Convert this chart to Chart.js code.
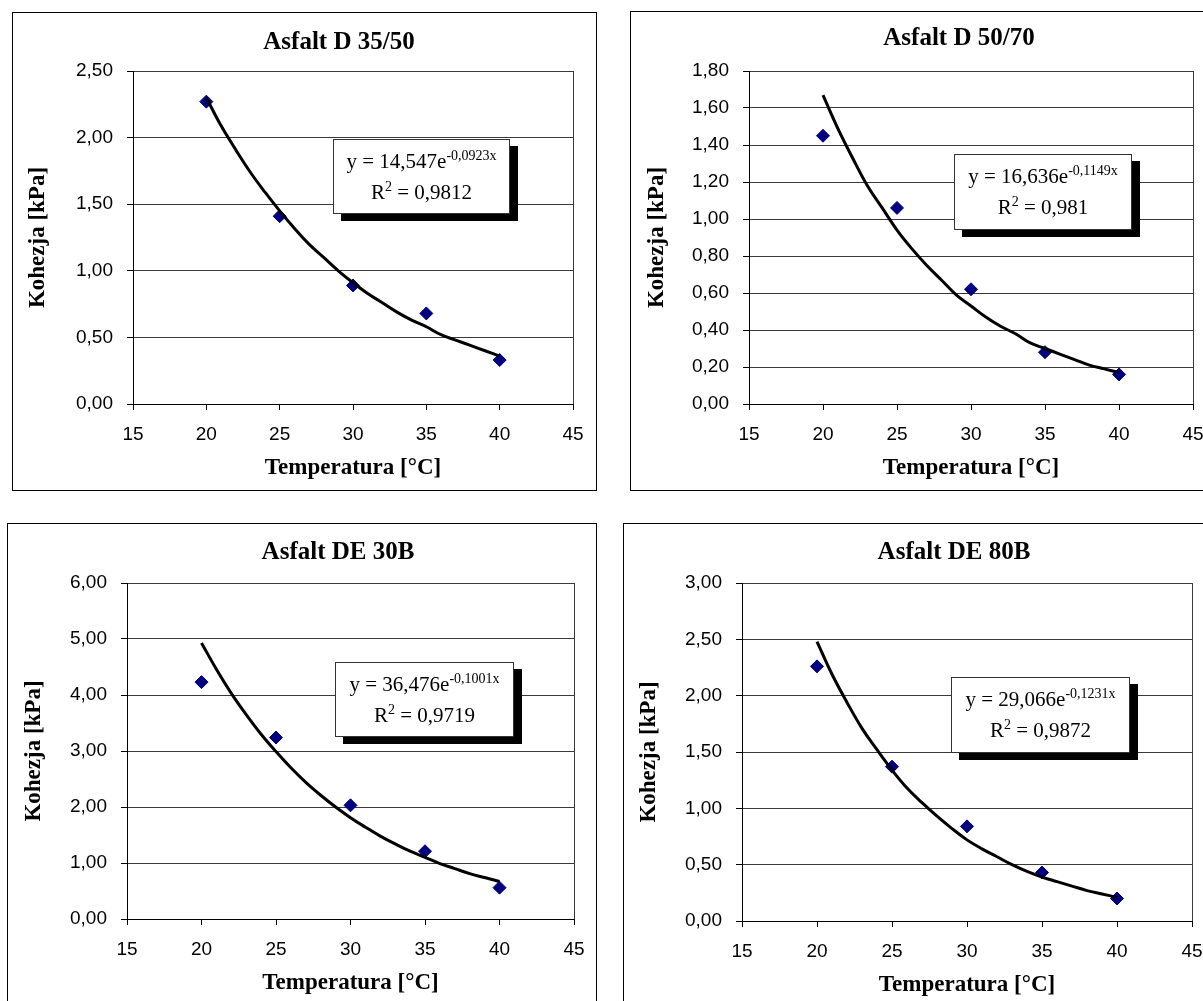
<!DOCTYPE html>
<html>
<head>
<meta charset="utf-8">
<title>Kohezja asfaltów</title>
<script src="https://cdn.jsdelivr.net/npm/chart.js@4.4.0/dist/chart.umd.min.js"></script>
<style>
  html, body { margin: 0; padding: 0; background: #fff; }
  body { width: 1203px; height: 1001px; overflow: hidden; position: relative; }
  .box { position: absolute; box-sizing: border-box; border: 1px solid #000; }
  canvas.chart { position: absolute; }
  .eq {
    position: absolute; box-sizing: border-box; background: #fff;
    border: 1px solid #333; box-shadow: 8px 7px 0 #000;
    font-family: "Liberation Serif", "Times New Roman", serif; font-size: 21px;
    line-height: 31px; padding-top: 6px; text-align: center; white-space: nowrap; color: #000;
  }
  .eq sup { font-size: 14px; line-height: 0; vertical-align: 0; position: relative; top: -8px; }
</style>
</head>
<body>
<script>
// ---------------------------------------------------------------------------
// Kohezja [kPa] vs temperatura [°C] for four bitumens, each with an
// exponential trend line and its equation box (Excel style).
// ---------------------------------------------------------------------------

// ===== data =====
const TEMPS = [20, 25, 30, 35, 40];
const KOH_D3550 = [2.27, 1.41, 0.89, 0.68, 0.33];
const KOH_D5070 = [1.45, 1.06, 0.62, 0.28, 0.16];
const KOH_DE30B = [4.23, 3.24, 2.03, 1.21, 0.56];
const KOH_DE80B = [2.26, 1.37, 0.84, 0.43, 0.20];

// trend lines, read at every degree
const TREND_T = [20, 21, 22, 23, 24, 25, 26, 27, 28, 29, 30, 31, 32, 33, 34, 35, 36, 37, 38, 39, 40];
const TREND_D3550 = [2.30, 2.09, 1.91, 1.74, 1.59, 1.45, 1.32, 1.20, 1.10, 1.00, 0.91,
                     0.83, 0.76, 0.69, 0.63, 0.58, 0.52, 0.48, 0.44, 0.40, 0.36];
const TREND_D5070 = [1.67, 1.49, 1.33, 1.18, 1.06, 0.94, 0.84, 0.75, 0.67, 0.59, 0.53,
                     0.47, 0.42, 0.38, 0.33, 0.30, 0.27, 0.24, 0.21, 0.19, 0.17];
const TREND_DE30B = [4.93, 4.46, 4.03, 3.65, 3.30, 2.99, 2.70, 2.44, 2.21, 2.00, 1.81,
                     1.64, 1.48, 1.34, 1.21, 1.10, 0.99, 0.90, 0.81, 0.74, 0.67];
const TREND_DE80B = [2.48, 2.19, 1.94, 1.71, 1.52, 1.34, 1.18, 1.05, 0.93, 0.82, 0.72,
                     0.64, 0.57, 0.50, 0.44, 0.39, 0.35, 0.31, 0.27, 0.24, 0.21];

// equation box texts: [coefficient, exponent, R²]
const EQ_D3550 = ["14,547", "-0,0923x", "0,9812"];
const EQ_D5070 = ["16,636", "-0,1149x", "0,981"];
const EQ_DE30B = ["36,476", "-0,1001x", "0,9719"];
const EQ_DE80B = ["29,066", "-0,1231x", "0,9872"];

// axes
const X_MIN = 15, X_MAX = 45, X_STEP = 5;
const Y_MAX = [2.5, 1.8, 6, 3];
const Y_STEP = [0.5, 0.2, 1, 0.5];
const TITLES = ["Asfalt D 35/50", "Asfalt D 50/70", "Asfalt DE 30B", "Asfalt DE 80B"];
const X_LABEL = "Temperatura [°C]";
const Y_LABEL = "Kohezja [kPa]";
// =====================================

const SERIF = "'Liberation Serif', 'Times New Roman', serif";
const SANS = "'Liberation Sans', Arial, sans-serif";
const TICK_SIZE = 19, TITLE_SIZE = 25, AXIS_TITLE_SIZE = 23, TICK_LEN = 6;
const GRID = "#3a3a3a";

// page layout of each panel (box, plot area, title centres, equation box)
const PANELS = [
  { box: { x: 12, y: 12, w: 585, h: 479 }, plot: { l: 133, r: 573, t: 71, b: 404 },
    titleX: 339, titleY: 43, yTitleX: 38, eq: { x: 333, y: 139, w: 177, h: 75 },
    koh: KOH_D3550, trend: TREND_D3550, eqText: EQ_D3550 },
  { box: { x: 630, y: 11, w: 620, h: 480 }, plot: { l: 749, r: 1193, t: 71, b: 404 },
    titleX: 959, titleY: 39, yTitleX: 657, eq: { x: 954, y: 154, w: 178, h: 76 },
    koh: KOH_D5070, trend: TREND_D5070, eqText: EQ_D5070 },
  { box: { x: 7, y: 523, w: 590, h: 500 }, plot: { l: 127, r: 574, t: 583, b: 919 },
    titleX: 338, titleY: 553, yTitleX: 34, eq: { x: 335, y: 662, w: 179, h: 75 },
    koh: KOH_DE30B, trend: TREND_DE30B, eqText: EQ_DE30B },
  { box: { x: 623, y: 523, w: 620, h: 500 }, plot: { l: 742, r: 1192, t: 583, b: 921 },
    titleX: 954, titleY: 553, yTitleX: 649, eq: { x: 951, y: 677, w: 179, h: 76 },
    koh: KOH_DE80B, trend: TREND_DE80B, eqText: EQ_DE80B },
];

const X_TICK_OFFSET = 31;   // plot bottom -> centre of x tick labels
const X_TITLE_OFFSET = 64;  // plot bottom -> centre of x title

// --- small helpers -----------------------------------------------------------

const fmt = (v) => v.toFixed(2).replace(".", ",");

// Excel puts the title a bit left of the plot centre; move the title block there.
const shiftTitle = {
  id: "shiftTitle",
  afterLayout(chart, args, opts) {
    const tb = chart.titleBlock;
    if (!tb) return;
    const dx = opts.x - (tb.left + tb.right) / 2;
    tb.left += dx;
    tb.right += dx;
  },
};

function el(tag, cls, style) {
  const e = document.createElement(tag);
  if (cls) e.className = cls;
  Object.assign(e.style, style);
  document.body.appendChild(e);
  return e;
}

// --- one panel ---------------------------------------------------------------

function drawPanel(p, i) {
  el("div", "box", { left: p.box.x + "px", top: p.box.y + "px",
    width: p.box.w + "px", height: p.box.h + "px" });

  const cx = p.box.x + 1, cy = p.box.y + 1, cw = p.box.w - 2, ch = p.box.h - 2;
  const cv = el("canvas", "chart", { left: cx + "px", top: cy + "px" });
  cv.width = cw;
  cv.height = ch;

  const titleLH = TITLE_SIZE * 1.2;
  const titlePadTop = p.titleY - cy - titleLH / 2;
  const titlePadBottom = p.plot.t - cy - titleLH - titlePadTop;
  const axisLH = AXIS_TITLE_SIZE * 1.2;
  const tickLH = TICK_SIZE * 1.2;
  const xAxisH = cy + ch - p.plot.b;

  new Chart(cv, {
    type: "scatter",
    plugins: [shiftTitle],
    data: {
      datasets: [
        { // trend line, drawn on top
          data: TREND_T.map((t, k) => ({ x: t, y: p.trend[k] })),
          showLine: true, borderColor: "#000", borderWidth: 3,
          pointRadius: 0, tension: 0.4, fill: false,
        },
        {
          data: TEMPS.map((t, k) => ({ x: t, y: p.koh[k] })),
          pointStyle: "rectRot", pointRadius: 6.5,
          backgroundColor: "#000080", borderColor: "#000080", borderWidth: 1,
        },
      ],
    },
    options: {
      responsive: false, animation: false, devicePixelRatio: 1,
      layout: { padding: { left: 0, top: 0, bottom: 0, right: cx + cw - p.plot.r } },
      plugins: {
        legend: { display: false },
        tooltip: { enabled: false },
        shiftTitle: { x: p.titleX - cx },
        title: {
          display: true, text: TITLES[i], color: "#000",
          font: { family: SERIF, size: TITLE_SIZE, weight: "bold", lineHeight: 1.2 },
          padding: { top: titlePadTop, bottom: titlePadBottom },
        },
      },
      scales: {
        x: {
          type: "linear", min: X_MIN, max: X_MAX,
          ticks: { stepSize: X_STEP, color: "#000", maxRotation: 0, autoSkip: false,
            font: { family: SANS, size: TICK_SIZE, lineHeight: 1.2 },
            padding: X_TICK_OFFSET - TICK_LEN - tickLH / 2 },
          grid: { color: (c) => (c.tick && c.tick.value === X_MAX ? GRID : "rgba(0,0,0,0)"),
            tickColor: "#000", tickLength: TICK_LEN, lineWidth: 1 },
          border: { display: true, color: "#000", width: 1 },
          title: { display: true, text: X_LABEL, color: "#000",
            font: { family: SERIF, size: AXIS_TITLE_SIZE, weight: "bold", lineHeight: 1.2 },
            padding: { top: 0, bottom: xAxisH - X_TITLE_OFFSET - axisLH / 2 } },
          afterFit: (s) => { s.height = xAxisH; s.paddingLeft = 0; s.paddingRight = 0; },
        },
        y: {
          type: "linear", min: 0, max: Y_MAX[i],
          ticks: { stepSize: Y_STEP[i], color: "#000", padding: 14,
            font: { family: SANS, size: TICK_SIZE, lineHeight: 1.2 },
            callback: (v) => fmt(v) },
          grid: { color: GRID, tickColor: "#000", tickLength: TICK_LEN, lineWidth: 1 },
          border: { display: true, color: "#000", width: 1 },
          title: { display: true, text: Y_LABEL, color: "#000",
            font: { family: SERIF, size: AXIS_TITLE_SIZE, weight: "bold", lineHeight: 1.2 },
            padding: { top: p.yTitleX - cx - axisLH / 2, bottom: 0 } },
          afterFit: (s) => { s.width = p.plot.l - cx; s.paddingTop = 0; s.paddingBottom = 0; },
        },
      },
    },
  });

  // equation box with the drop shadow
  const eq = el("div", "eq", { left: p.eq.x + "px", top: p.eq.y + "px",
    width: p.eq.w + "px", height: p.eq.h + "px" });
  const [a, b, r2] = p.eqText;
  eq.innerHTML = `y = ${a}e<sup>${b}</sup><br>R<sup>2</sup> = ${r2}`;
}

PANELS.forEach(drawPanel);
</script>
</body>
</html>
